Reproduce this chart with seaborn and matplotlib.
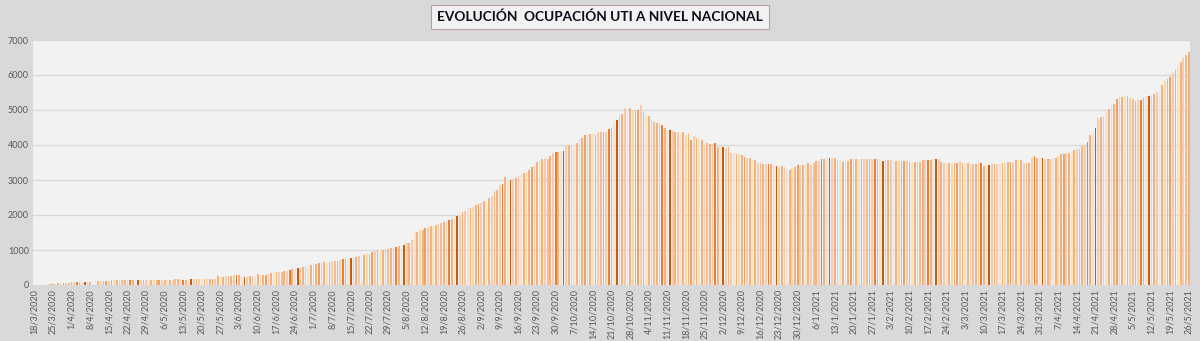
import pandas as pd
import numpy as np
import seaborn as sns
import matplotlib.pyplot as plt

# ---------------- data ----------------
start_date = "2020-03-18"
values = [
    0, 0, 0, 0, 0, 0, 30,
    35, 40, 45, 50, 55, 60, 70,
    85, 90, 90, 95, 95, 95, 100,
    100, 0, 110, 105, 115, 120, 120,
    125, 130, 130, 135, 135, 140, 140,
    140, 145, 135, 150, 150, 150, 155,
    155, 150, 150, 155, 150, 150, 130,
    155, 155, 150, 155, 160, 165, 160,
    155, 155, 160, 160, 160, 165, 160,
    180, 180, 175, 180, 180, 185, 260,
    255, 230, 250, 270, 265, 280, 285,
    290, 235, 230, 240, 250, 255, 250,
    315, 300, 290, 280, 320, 335, 350,
    360, 370, 380, 390, 410, 430, 450,
    470, 490, 500, 520, 530, 540, 560,
    590, 610, 630, 650, 670, 640, 670,
    680, 690, 700, 720, 740, 750, 760,
    780, 790, 800, 820, 850, 870, 880,
    890, 930, 960, 990, 1000, 1010, 1020,
    1040, 1050, 1070, 1100, 1120, 1140, 1150,
    1190, 1200, 1280, 1510, 1520, 1560, 1580,
    1640, 1660, 1690, 1700, 1720, 1750, 1780,
    1800, 1820, 1860, 1900, 1930, 1980, 2000,
    2090, 2120, 2190, 2210, 2240, 2290, 2320,
    2350, 2400, 2400, 2500, 2550, 2700, 2720,
    2850, 2880, 3090, 3000, 3000, 3020, 3050,
    3120, 3130, 3210, 3240, 3290, 3380, 3400,
    3520, 3530, 3610, 3620, 3600, 3690, 3780,
    3790, 3790, 3840, 3830, 3980, 3990, 3990,
    4000, 4070, 4180, 4200, 4280, 4300, 4300,
    4340, 4290, 4370, 4380, 4380, 4380, 4470,
    4490, 4620, 4710, 4860, 4880, 5050, 4950,
    5050, 5000, 5000, 5000, 5130, 4930, 4850,
    4830, 4730, 4670, 4620, 4620, 4570, 4480,
    4430, 4430, 4400, 4380, 4380, 4350, 4380,
    4290, 4330, 4140, 4250, 4200, 4200, 4140,
    4000, 4050, 4040, 4040, 4070, 3950, 3980,
    3940, 3920, 3950, 3760, 3760, 3750, 3740,
    3710, 3670, 3640, 3620, 3600, 3560, 3500,
    3480, 3470, 3460, 3450, 3460, 3440, 3400,
    3380, 3390, 3380, 3300, 3280, 3330, 3380,
    3420, 3430, 3430, 3430, 3490, 3440, 3500,
    3550, 3550, 3600, 3600, 3620, 3630, 3640,
    3640, 3570, 3570, 3520, 3550, 3550, 3600,
    3610, 3610, 3610, 3610, 3610, 3610, 3610,
    3600, 3610, 3610, 3610, 3550, 3580, 3580,
    3580, 3580, 3550, 3550, 3550, 3550, 3550,
    3520, 3520, 3520, 3520, 3520, 3570, 3570,
    3570, 3570, 3600, 3600, 3600, 3520, 3490,
    3490, 3480, 3480, 3480, 3500, 3530, 3500,
    3500, 3480, 3460, 3460, 3460, 3520, 3490,
    3410, 3410, 3430, 3460, 3460, 3460, 3480,
    3500, 3500, 3520, 3520, 3520, 3580, 3580,
    3580, 3500, 3500, 3500, 3640, 3700, 3640,
    3640, 3640, 3610, 3610, 3610, 3640, 3640,
    3700, 3740, 3730, 3760, 3780, 3800, 3860,
    3890, 3900, 3980, 3990, 4100, 4290, 4340,
    4490, 4770, 4800, 4840, 4920, 5030, 5130,
    5180, 5310, 5380, 5380, 5420, 5390, 5330,
    5300, 5270, 5290, 5290, 5340, 5370, 5390,
    5420, 5460, 5520, 5550, 5700, 5820, 5890,
    5950, 6050, 6140, 6240, 6380, 6480, 6580,
    6650,
]
dates = pd.date_range(start_date, periods=len(values), freq="D")
date_labels = [f"{d.day}/{d.month}/{d.year}" for d in dates]
y_ticks = [0, 1000, 2000, 3000, 4000, 5000, 6000, 7000]
title = "EVOLUCIÓN  OCUPACIÓN UTI A NIVEL NACIONAL"

# ---------------- style ----------------
shades = ["#F8CBAD", "#F4B183", "#F8C8A8", "#FBE0CC", "#F4B183", "#FFD8A0",
          "#F4B183", "#F0A060", "#F8CBAD", "#F4B183", "#FFE3B0", "#F4B183",
          "#F8CBAD", "#F6BC90", "#F4B183", "#F8CBAD", "#ED7D31", "#F4B183",
          "#FBE0CC", "#C55A11"]
bar_colors = [shades[i % len(shades)] for i in range(len(values))]

font = ["Lato", "DejaVu Sans"]
plt.rcParams["font.family"] = font

df = pd.DataFrame({"fecha": date_labels, "uti": values})

fig = plt.figure(figsize=(12, 3.41), dpi=100, facecolor="#D9D9D9")
ax = fig.add_axes([33 / 1200, 56 / 341, 1157 / 1200, 245 / 341])
ax.set_facecolor("#F2F2F2")

sns.barplot(data=df, x="fecha", y="uti", hue="fecha", palette=bar_colors,
            legend=False, dodge=False, width=0.65, saturation=1, ax=ax,
            linewidth=0)

n = len(values)
ax.set_xlim(-0.5, n - 0.5)
ax.set_ylim(0, 7000)
ax.set_yticks(y_ticks)
ax.set_yticklabels([str(v) for v in y_ticks])
ax.set_xticks(range(0, n, 7))
ax.set_xticklabels(date_labels[::7], rotation=90)
ax.set_xlabel("")
ax.set_ylabel("")
ax.yaxis.grid(True, color="#D9D9D9", linewidth=1)
ax.xaxis.grid(False)
ax.set_axisbelow(True)
for s in ax.spines.values():
    s.set_visible(False)
ax.tick_params(axis="both", length=0, colors="#595959", labelsize=6.5, pad=3)

fig.text(0.5, 1 - 17 / 341, title, ha="center", va="center",
         fontsize=9.8, fontweight="bold", color="#0d0d1a", family=font,
         bbox=dict(facecolor="#F2F2F2", edgecolor="#B8A0A0",
                   boxstyle="square,pad=0.45", linewidth=0.8))

fig.savefig("out.png", dpi=100, facecolor=fig.get_facecolor())
